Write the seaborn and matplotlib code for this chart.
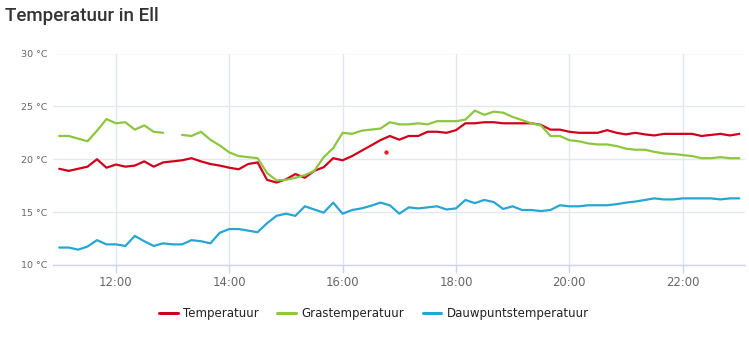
import numpy as np
import pandas as pd
import matplotlib
matplotlib.use("Agg")
import matplotlib.pyplot as plt
import seaborn as sns

# 10-minute readings, 11:00 to 23:00
times = pd.date_range("2024-06-01 11:00", "2024-06-01 23:00", freq="10min")

temperatuur = [
    19.1, 18.9, 19.1, 19.3, 20.0, 19.2, 19.5, 19.3, 19.4, 19.8, 19.3, 19.7,
    19.8, 19.9, 20.1, 19.8, 19.55, 19.4, 19.2, 19.05, 19.55, 19.7, 18.05, 17.8,
    18.1, 18.6, 18.25, 18.9, 19.25, 20.1, 19.9, 20.3, 20.8, 21.3, 21.8, 22.2,
    21.85, 22.2, 22.2, 22.6, 22.6, 22.5, 22.75, 23.4, 23.4, 23.5, 23.5, 23.4,
    23.4, 23.4, 23.4, 23.25, 22.8, 22.8, 22.6, 22.5, 22.5, 22.5, 22.75, 22.5,
    22.35, 22.5, 22.35, 22.25, 22.4, 22.4, 22.4, 22.4, 22.2, 22.3, 22.4, 22.25,
    22.4,
]
grastemperatuur = [
    22.2, 22.2, 21.95, 21.7, 22.7, 23.8, 23.4, 23.5, 22.8, 23.2, 22.6, 22.5,
    np.nan, 22.3, 22.2, 22.6, 21.85, 21.3, 20.65, 20.3, 20.2, 20.1, 18.7, 18.0,
    18.05, 18.25, 18.5, 18.9, 20.2, 21.05, 22.5, 22.4, 22.7, 22.8, 22.9, 23.5,
    23.3, 23.3, 23.4, 23.3, 23.6, 23.6, 23.6, 23.75, 24.6, 24.2, 24.5, 24.4,
    24.0, 23.7, 23.4, 23.2, 22.2, 22.2, 21.8, 21.7, 21.5, 21.4, 21.4, 21.25,
    21.0, 20.9, 20.9, 20.7, 20.55, 20.5, 20.4, 20.3, 20.1, 20.1, 20.2, 20.1,
    20.1,
]
dauwpuntstemperatuur = [
    11.65, 11.65, 11.45, 11.75, 12.35, 11.95, 11.95, 11.8, 12.75, 12.25, 11.8, 12.05,
    11.95, 11.95, 12.35, 12.25, 12.05, 13.05, 13.4, 13.4, 13.25, 13.1, 13.95, 14.65,
    14.85, 14.65, 15.55, 15.25, 14.95, 15.9, 14.85, 15.2, 15.35, 15.6, 15.9, 15.65,
    14.85, 15.45, 15.35, 15.45, 15.55, 15.25, 15.35, 16.15, 15.85, 16.15, 15.95, 15.3,
    15.55, 15.2, 15.2, 15.1, 15.2, 15.65, 15.55, 15.55, 15.65, 15.65, 15.65, 15.75,
    15.9, 16.0, 16.15, 16.3, 16.2, 16.2, 16.3, 16.3, 16.3, 16.3, 16.2, 16.3,
    16.3,
]

# single stray temperature reading
losse_meting_tijd = ["16:46"]
losse_meting_waarde = [20.7]

series_names = ["Temperatuur", "Grastemperatuur", "Dauwpuntstemperatuur"]
series_values = [temperatuur, grastemperatuur, dauwpuntstemperatuur]
colors = ["#d0021b", "#8dc63f", "#27a6d2"]

x_ticks = [12, 14, 16, 18, 20, 22]
x_tick_labels = ["12:00", "14:00", "16:00", "18:00", "20:00", "22:00"]
y_ticks = [10, 15, 20, 25, 30]
y_tick_labels = ["10 °C", "15 °C", "20 °C", "25 °C", "30 °C"]

hours = times.hour + times.minute / 60.0

frames = []
for name, vals in zip(series_names, series_values):
    v = pd.Series(vals, dtype=float)
    df = pd.DataFrame({"uur": hours, "waarde": v, "reeks": name})
    # break the line wherever a reading is missing
    df["deel"] = v.isna().cumsum()
    frames.append(df.dropna())
data = pd.concat(frames, ignore_index=True)
data["eenheid"] = data["reeks"] + "_" + data["deel"].astype(str)

sns.set_theme(style="white")
plt.rcParams["font.family"] = ["DejaVu Sans"]

fig = plt.figure(figsize=(7.49, 3.38), dpi=100)
ax = fig.add_axes([53 / 749, 1 - 265 / 338, (745 - 53) / 749, (265 - 53.5) / 338])

sns.lineplot(
    data=data, x="uur", y="waarde", hue="reeks", units="eenheid",
    estimator=None, hue_order=series_names, palette=colors,
    linewidth=1.6, ax=ax, sort=True,
)

stray = pd.DataFrame({
    "uur": [int(t.split(":")[0]) + int(t.split(":")[1]) / 60 for t in losse_meting_tijd],
    "waarde": losse_meting_waarde,
})
sns.scatterplot(data=stray, x="uur", y="waarde", color="#e8232a", s=10,
                linewidth=0, ax=ax, legend=False, zorder=5)

ax.set_xlim(10.89, 23.1)
ax.set_ylim(10, 30)
ax.set_xticks(x_ticks)
ax.set_xticklabels(x_tick_labels)
ax.set_yticks(y_ticks)
ax.set_yticklabels(y_tick_labels)
ax.set_xlabel("")
ax.set_ylabel("")

ax.grid(True, color="#e4e7ed", linewidth=1.0)
ax.set_axisbelow(True)
for side in ["top", "right", "left"]:
    ax.spines[side].set_visible(False)
ax.spines["bottom"].set_color("#ccd6eb")
ax.spines["bottom"].set_linewidth(1.0)
ax.tick_params(axis="x", length=6, width=1, color="#ccd6eb", pad=2,
               labelsize=8.4, labelcolor="#666666", bottom=True)
ax.tick_params(axis="y", length=0, pad=4, labelsize=6.8, labelcolor="#666666")

handles, labels = ax.get_legend_handles_labels()
ax.get_legend().remove()
leg = fig.legend(handles, labels, loc="center", bbox_to_anchor=(374 / 749, 1 - 314 / 338),
                 ncol=3, frameon=False, fontsize=8.5, handlelength=1.6,
                 handletextpad=0.45, columnspacing=1.55)
for h in leg.get_lines():
    h.set_linewidth(2.2)
for t in leg.get_texts():
    t.set_color("#222222")

fig.text(5 / 749, 1 - 21 / 338, "Temperatuur in Ell", fontsize=13.5,
         color="#333333", family=["Roboto", "DejaVu Sans"], fontweight="medium",
         va="baseline", ha="left")

fig.savefig("out.png", dpi=100)
